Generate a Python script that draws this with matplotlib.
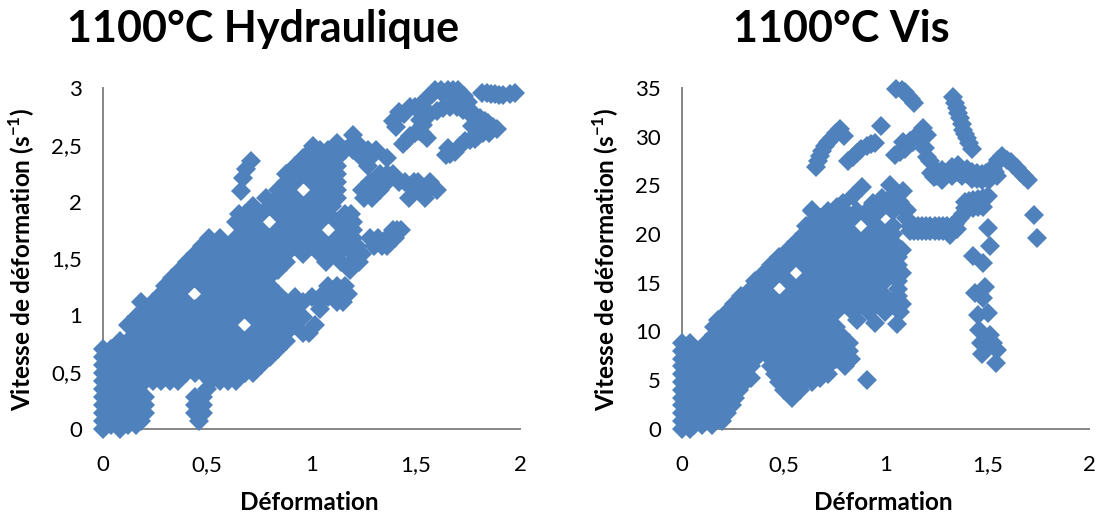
import numpy as np
import matplotlib
matplotlib.use('Agg')
import matplotlib.pyplot as plt

plt.rcParams['font.family'] = ['Lato', 'DejaVu Sans']
plt.rcParams['mathtext.fontset'] = 'custom'
plt.rcParams['mathtext.bf'] = 'Lato:bold'
plt.rcParams['mathtext.rm'] = 'Lato:bold'

## Left chart, points
hydro_row_y = [0.0, 0.03, 0.07, 0.14, 0.21, 0.28, 0.35, 0.42, 0.49, 0.56, 0.63, 0.70, 0.77, 0.84, 0.91, 0.98,
               1.05, 1.12, 1.16, 1.19, 1.26, 1.33, 1.40, 1.47, 1.54, 1.61, 1.68, 1.75, 1.82, 1.89, 1.96,
               2.03, 2.10, 2.17, 2.24, 2.31, 2.38, 2.45, 2.49, 2.52, 2.59]
hydro_row_x = [
    [0, .08],
    [.04, .12, .16],
    [0, .04, .08, .12, .18, .46],
    [0, .04, .08, .12, .16, .2, .44, .48],
    [0, .04, .08, .12, .16, .2, .44, .48],
    [0, .04, .08, .12, .16, .2, .44, .48],
    [0, .04, .08, .12, .16, .5],
    [0, .04, .08, .12, .16, .2, .24, .28, .32, .36, .52, .56, .6, .64],
    [0, .04, .08, .12, .16, .2, .24, .28, .32, .36, .4, .44, .48, .52, .56, .6, .64, .68, .72],
    [0, .04, .08, .16, .24, .32, .4, .48, .56, .64, .72, .76],
    [0, .04, .12, .2, .28, .36, .44, .52, .6, .68, .76, .8],
    [0, .04, .08, .16, .24, .32, .4, .48, .56, .64, .72, .8, .84],
    [.08, .12, .16, .2, .28, .36, .44, .52, .6, .68, .76, .84, .88],
    [.16, .24, .32, .4, .48, .56, .64, .72, .8, .88, .96, .99],
    [.12, .2, .28, .36, .44, .52, .6, .76, .84, .92, 1.016],
    [.16, .24, .32, .4, .48, .56, .64, .72, .8, .88, .96],
    [.2, .28, .36, .44, .52, .6, .68, .76, .84, .92, 1.04],
    [.18, .24, .32, .4, .48, .56, .64, .72, .8, .88, .96, 1.04, 1.12, 1.15],
    [.92, 1.0, 1.04, 1.08, 1.12, 1.15],
    [.28, .36, .52, .6, .68, .76, .84, 1.08, 1.176],
    [.295, .32, .4, .48, .56, .64, .72, .8, 1.08, 1.12, 1.16],
    [.33, .36, .44, .52, .6, .68, .76, .79],
    [.368, .4, .48, .56, .64, .72, .8, .84, 1.184],
    [.405, .44, .52, .6, .68, .76, .84, .88, 1.07, 1.14, 1.2, 1.23],
    [.44, .48, .56, .64, .72, .8, .88, .96, 1.04, 1.12, 1.2, 1.24],
    [.477, .52, .6, .68, .76, .84, .92, 1.0, 1.08, 1.16, 1.216, 1.3, 1.34, 1.363],
    [.51, .56, .64, .72, .8, .88, .96, 1.04, 1.12, 1.2, 1.28, 1.32, 1.36, 1.38, 1.4],
    [.68, .76, .84, .92, 1.0, 1.16, 1.2, 1.39, 1.41, 1.427],
    [.64, .72, .88, .96, 1.04, 1.12, 1.2],
    [.65, .68, .76, .84, .92, 1.0, 1.08, 1.16, 1.19],
    [.72, .8, .88, .96, 1.04, 1.1],
    [.78, .84, .92, 1.0, 1.08, 1.12, 1.25, 1.29, 1.47, 1.544],
    [.84, .88, 1.04, 1.12, 1.24, 1.3, 1.33, 1.49, 1.53, 1.56, 1.603],
    [.88, .92, 1.0, 1.08, 1.12, 1.28, 1.33, 1.36, 1.42, 1.45, 1.49, 1.51, 1.57],
    [.88, .96, 1.04, 1.12, 1.33, 1.36, 1.39],
    [.92, 1.0, 1.04, 1.08, 1.12, 1.272],
    [.96, 1.04, 1.12, 1.24, 1.28, 1.36],
    [1.0, 1.04, 1.08, 1.12, 1.16, 1.2, 1.24, 1.272, 1.31],
    [1.008],
    [1.12, 1.2, 1.22],
    [1.2],
]
# isolated parts: the spur near x=0.7 and the top right branches
hydro_extra_x = [.712, .688, .672, .664, 1.392,
                 1.392, 1.42, 1.472, 1.52, 1.568, 1.592, 1.656, 1.704, 1.73, 1.816, 1.88, 1.92, 1.976,
                 1.437, 1.472, 1.552, 1.517, 1.52, 1.568, 1.632, 1.696, 1.752, 1.808, 1.848, 1.888,
                 1.645, 1.688, 1.656, 1.736, 1.784, 1.824, 1.768,
                 1.405, 1.446, 1.496, 1.545, 1.62, 1.68, 1.75, 1.58, 1.63, 1.67, 1.71,
                 1.84, 1.86, 1.9, 1.95,
                 1.46, 1.495, 1.53, 1.535, 1.544, 1.6, 1.665, 1.725, 1.78, 1.83, 1.87,
                 1.665, 1.71, 1.76, 1.8, 1.85]
hydro_extra_y = [2.356, 2.288, 2.21, 2.09, 2.23,
                 2.71, 2.79, 2.83, 2.84, 2.93, 2.98, 2.98, 2.98, 2.93, 2.96, 2.95, 2.94, 2.96,
                 2.51, 2.576, 2.56, 2.62, 2.72, 2.77, 2.82, 2.83, 2.79, 2.74, 2.69, 2.635,
                 2.406, 2.435, 2.47, 2.53, 2.547, 2.606, 2.665,
                 2.66, 2.77, 2.83, 2.89, 2.98, 2.98, 2.88, 2.95, 2.95, 2.95, 2.93,
                 2.96, 2.95, 2.94, 2.95,
                 2.54, 2.6, 2.6, 2.67, 2.745, 2.8, 2.83, 2.81, 2.77, 2.71, 2.66,
                 2.42, 2.49, 2.54, 2.58, 2.6]

## Right chart
vis_row_y = [0.0, 0.4, 0.8, 1.6, 2.4, 3.2, 4.0, 4.8, 5.2, 5.6, 6.4, 7.2, 8.0, 8.8, 9.6, 10.4, 11.2, 12.0, 12.8,
             13.6, 14.4, 15.2, 16.0, 16.8, 17.6, 18.4, 19.2, 20.0, 20.8, 21.6, 22.4]
vis_row_x = [
    [0, .04],
    [.06, .1, .15],
    [0, .04, .12, .16, .2],
    [0, .08, .16, .22],
    [0, .04, .12, .2, .245],
    [0, .08, .16, .24, .26, .54],
    [0, .04, .12, .2, .28, .5, .54, .58],
    [0, .08, .16, .24, .31, .48, .52, .56, .6, .64],
    [.34, .68],
    [0, .04, .12, .2, .28, .316, .46, .52, .6, .68, .72],
    [0, .08, .16, .24, .31, .34, .44, .48, .56, .64, .72, .8],
    [0, .04, .12, .2, .28, .36, .44, .52, .6, .68, .76, .83],
    [0, .08, .16, .24, .32, .4, .48, .56, .64, .72, .8, .82],
    [0, .04, .12, .2, .28, .36, .44, .52, .6, .68, .76, .82],
    [.16, .24, .32, .4, .48, .56, .64, .72, .78],
    [.16, .2, .28, .36, .44, .52, .6, .68, .76],
    [.18, .24, .32, .4, .48, .56, .64, .72, .86],
    [.224, .28, .36, .44, .52, .6, .68, .76, .84, .92, 1.0, 1.07],
    [.257, .32, .4, .48, .56, .64, .72, .8, .88, .96, 1.04, 1.08],
    [.29, .36, .44, .52, .6, .68, .76, .84, .92, 1.0, 1.06],
    [.34, .4, .56, .64, .72, .8, .88, .96, 1.06],
    [.36, .44, .52, .6, .68, .76, .84, .92, 1.0, 1.06],
    [.404, .48, .64, .72, .8, .88, .96, 1.04, 1.08],
    [.44, .52, .6, .68, .76, .84, .92, 1.0, 1.06],
    [.48, .56, .64, .72, .8, .88, .96, 1.04, 1.06],
    [.52, .6, .68, .76, .84, .92, 1.0, 1.08],
    [.56, .64, .72, .8, .88, .96, 1.04],
    [.6, .68, .76, .84, .92, 1.0, 1.04],
    [.61, .64, .72, .8, .96, 1.04],
    [.66, .68, .76, .84, .92, 1.1],
    [.64, .72, .8, .86, .91, .97, 1.04, 1.1],
]
# upper lobes, bands and the loose diamonds on the right
vis_extra_x = [.95, 1.059, .908,
               .638, .884, .843, .794, .761, 1.023, 1.088, .982, 1.039, .941, 1.072, 1.007, 1.105,
               1.12, 1.14, 1.16, 1.18, 1.2, 1.22, 1.245, 1.265, 1.285, 1.305, 1.325,
               1.12, 1.14, 1.16, 1.18, 1.2, 1.22, 1.245, 1.265, 1.285, 1.305, 1.325, 1.318,
               1.34, 1.35, 1.35, 1.367, 1.38, 1.39, 1.39, 1.41, 1.41, 1.432, 1.432, 1.455, 1.455, 1.481, 1.481, 1.506,
               1.222, 1.24, 1.25, 1.25, 1.277, 1.277, 1.3, 1.326, 1.326, 1.35, 1.35, 1.375, 1.358, 1.4, 1.4,
               1.424, 1.424, 1.45, 1.45, 1.473, 1.473, 1.495, 1.495, 1.514, 1.55,
               1.538, 1.538, 1.53, 1.555, 1.571, 1.596, 1.615, 1.628, 1.645, 1.661, 1.68, 1.702,
               1.047, 1.07, 1.097, 1.1, 1.12, 1.137, 1.15, 1.16, 1.18, 1.187, 1.206, 1.17, 1.195, 1.203, 1.219, 1.088,
               1.05, 1.08, 1.095, 1.113, 1.127, 1.141,
               1.334, 1.342, 1.35, 1.358, 1.367, 1.375, 1.383, 1.39, 1.399, 1.41, 1.424,
               .977, .777, .797, .757, .736, .72, .704, .69, .679, .668, .658,
               .818, .84, .859, .88, .908, .93, .949,
               1.732, 1.743, 1.502, 1.514, 1.432, 1.481, 1.489, 1.44, 1.481, 1.457, 1.506, 1.462,
               1.514, 1.468, 1.53, 1.547, 1.473, 1.506, 1.543]
vis_extra_y = [10.9, 10.73, 5.0,
               22.5, 24.8, 23.9, 23.2, 22.8, 25.0, 24.4, 23.7, 24.0, 23.2, 23.3, 23.0, 22.5,
               20.8, 20.8, 20.8, 20.8, 20.8, 20.8, 20.8, 20.8, 20.8, 20.8, 20.8,
               20.3, 20.3, 20.3, 20.3, 20.3, 20.3, 20.3, 20.3, 20.3, 20.3, 20.3, 19.9,
               21.0, 20.5, 21.3, 21.6, 22.1, 22.7, 23.3, 22.7, 23.4, 22.7, 23.5, 22.8, 23.6, 22.8, 23.7, 23.9,
               26.3, 25.9, 26.0, 26.6, 25.6, 26.6, 26.3, 26.0, 26.9, 26.4, 26.9, 26.0, 27.1, 26.2, 26.7,
               25.7, 26.4, 25.7, 26.3, 25.6, 26.2, 25.8, 26.3, 25.7, 26.0,
               26.4, 27.1, 26.7, 27.6, 28.0, 27.6, 27.4, 27.1, 26.8, 26.4, 26.0, 25.6,
               28.1, 28.4, 28.7, 29.0, 29.6, 29.5, 29.9, 30.3, 30.4, 30.9, 30.2, 29.2, 28.8, 27.9, 27.5, 29.5,
               34.9, 34.8, 34.6, 34.2, 33.9, 33.5,
               34.1, 33.5, 32.9, 32.4, 31.9, 31.3, 30.7, 30.3, 29.9, 29.3, 28.7,
               31.1, 30.8, 30.1, 30.4, 29.9, 29.5, 29.0, 28.5, 28.0, 27.5, 26.9,
               27.5, 27.9, 28.3, 28.7, 29.0, 29.2, 29.4,
               22.0, 19.6, 20.6, 18.8, 17.7, 17.0, 14.6, 13.9, 13.4, 11.7, 11.9, 10.1,
               9.6, 8.8, 8.8, 8.1, 7.7, 8.4, 6.8]

x_ticks = [0, 0.5, 1, 1.5, 2]
x_labels = ['0', '0,5', '1', '1,5', '2']
hydro_ticks = [0, 0.5, 1, 1.5, 2, 2.5, 3]
hydro_labels = ['0', '0,5', '1', '1,5', '2', '2,5', '3']
vis_ticks = [0, 5, 10, 15, 20, 25, 30, 35]
vis_labels = ['0', '5', '10', '15', '20', '25', '30', '35']


def flatten(row_y, row_x, extra_x, extra_y):
    xs, ys = [], []
    for y, row in zip(row_y, row_x):
        xs += list(row)
        ys += [y] * len(row)
    return xs + extra_x, ys + extra_y


W, H = 1099, 515
blue = '#4F81BD'
fig = plt.figure(figsize=(W / 100, H / 100), dpi=100)


def panel(x0, x1, y0, y1, xs, ys, yticks, ylabels, ymax, title, title_x, ylabel_x):
    ax = fig.add_axes([x0 / W, 1 - y0 / H, (x1 - x0) / W, (y0 - y1) / H])
    ax.plot(xs, ys, 'D', color=blue, ms=9.7, mew=0, clip_on=False, zorder=5)
    ax.set_xlim(0, 2)
    ax.set_ylim(0, ymax)
    ax.spines['top'].set_visible(False)
    ax.spines['right'].set_visible(False)
    ax.spines['left'].set_color('#868686')
    ax.spines['bottom'].set_color('#868686')
    ax.spines['left'].set_linewidth(1.4)
    ax.spines['bottom'].set_linewidth(1.4)
    ax.set_xticks(x_ticks)
    ax.set_xticklabels(x_labels)
    ax.set_yticks(yticks)
    ax.set_yticklabels(ylabels)
    ax.tick_params(axis='x', length=0, labelsize=16, pad=19)
    ax.tick_params(axis='y', length=0, labelsize=16, pad=15)
    fig.text(title_x / W, 1 - 29 / H, title, fontsize=31, fontweight='bold', ha='center', va='center')
    fig.text((x0 + x1) / 2 / W - 0.002, 1 - 503 / H, 'Déformation', fontsize=17.5, fontweight='bold',
             ha='center', va='center')
    fig.text(ylabel_x / W, 1 - 259 / H, 'Vitesse de déformation (s$^{\\mathbf{-1}}$)', fontsize=17.5,
             fontweight='bold', rotation=90, ha='center', va='center')
    return ax


hx, hy = flatten(hydro_row_y, hydro_row_x, hydro_extra_x, hydro_extra_y)
vx, vy = flatten(vis_row_y, vis_row_x, vis_extra_x, vis_extra_y)
panel(103, 520, 428.7, 88, hx, hy, hydro_ticks, hydro_labels, 3, '1100°C Hydraulique', 263, 22)
panel(681.7, 1089, 428.7, 88, vx, vy, vis_ticks, vis_labels, 35, '1100°C Vis', 841, 606)

plt.savefig('out.png', dpi=100)
